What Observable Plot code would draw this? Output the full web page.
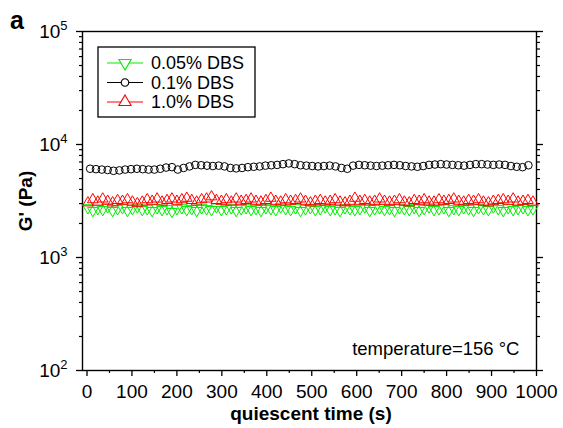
<!DOCTYPE html>
<html><head><meta charset="utf-8">
<script src="https://cdn.jsdelivr.net/npm/d3@7"></script>
<script src="https://cdn.jsdelivr.net/npm/@observablehq/plot@0.6"></script>
<style>
body{margin:0;background:#fff}
#chart svg{font-family:"Liberation Sans",Arial,sans-serif}
</style>
</head><body><div id="chart"></div>
<script>
const seriesNames = ["0.05% DBS", "0.1% DBS", "1.0% DBS"];
const seriesColors = ["#00ee00", "#000000", "#ff0000"];

const xTicks = [0,100,200,300,400,500,600,700,800,900,1000];
const xMinorTicks = [50,150,250,350,450,550,650,750,850,950];
const yTicks = [100,1000,10000,100000];
const yMinorTicks = [200,300,400,500,600,700,800,900,2000,3000,4000,5000,6000,7000,8000,9000,20000,30000,40000,50000,60000,70000,80000,90000];

const timeTri = [2,13,24,35,46,57,68,79,90,101,
  112,123,134,145,156,167,178,189,200,211,
  222,233,244,255,266,277,288,299,310,321,
  332,343,354,365,376,387,398,409,420,431,
  442,453,464,475,486,497,508,519,530,541,
  552,563,574,585,596,607,618,629,640,651,
  662,673,684,695,706,717,728,739,750,761,
  772,783,794,805,816,827,838,849,860,871,
  882,893,904,915,926,937,948,959,970,981,992];

const timeCircle = [7,20,33,46,59,72,85,98,111,124,
  137,150,163,176,189,202,215,228,241,254,
  267,280,293,306,319,332,345,358,371,384,
  397,410,423,436,449,462,475,488,501,514,
  527,540,553,566,579,592,605,618,631,644,
  657,670,683,696,709,722,735,748,761,774,
  787,800,813,826,839,852,865,878,891,904,
  917,930,943,956,969,982];

const g005 = [2750,2600,2700,2650,2800,2600,2700,2750,2600,2700,
  2800,2650,2700,2600,2750,2650,2700,2550,2700,2750,
  2650,2700,2600,2750,2700,2650,2800,2650,2700,2750,
  2600,2700,2750,2650,2700,2600,2750,2700,2650,2800,
  2700,2650,2750,2600,2700,2750,2650,2700,2800,2650,
  2700,2600,2750,2700,2650,2700,2800,2600,2700,2750,
  2650,2700,2600,2750,2700,2650,2750,2600,2700,2800,
  2650,2700,2750,2600,2700,2650,2750,2700,2600,2750,
  2700,2650,2800,2700,2600,2750,2650,2700,2750,2650,2700];

const g01 = [6100,6050,6000,5950,5850,5900,6000,6050,6100,6050,
  6000,6000,6100,6250,6300,6000,6200,6400,6600,6550,
  6500,6450,6500,6400,6200,6150,6200,6300,6350,6400,
  6500,6550,6600,6700,6800,6700,6550,6500,6450,6400,
  6450,6500,6400,6200,6100,6500,6600,6550,6500,6450,
  6500,6550,6600,6550,6450,6400,6350,6450,6600,6650,
  6700,6650,6600,6550,6500,6600,6700,6700,6650,6600,
  6650,6600,6450,6350,6300,6550];

const g10 = [3050,3250,3100,3300,3150,3050,3200,3150,3250,3100,
  3000,3100,3250,3150,3300,3100,3200,3300,3150,3250,
  3350,3200,3100,3250,3300,3450,3200,3150,3250,3100,
  3300,3150,3200,3300,3150,3100,3200,3350,3150,3100,
  3250,3150,3200,3300,3150,3050,3150,3200,3100,3150,
  3250,3100,3050,3150,3350,3150,3200,3100,3150,3300,
  3150,3100,3150,3250,3100,3050,3200,3150,3250,3100,
  3100,3250,3150,3200,3300,3150,3100,3200,3150,3250,
  3100,3050,3150,3200,3250,3150,3300,3100,3150,3200,3100];

const dGreen = timeTri.map((t,i)=>({t, v:g005[i]}));
const dBlack = timeCircle.map((t,i)=>({t, v:g01[i]}));
const dRed = timeTri.map((t,i)=>({t, v:g10[i]}));

const fontFam = "Liberation Sans, Arial, sans-serif";

const plot = Plot.plot({
  width: 563, height: 428,
  marginLeft: 82, marginRight: 27, marginTop: 31, marginBottom: 58,
  style: {fontFamily: fontFam, fontSize: "19px", background: "#fff", color: "#000", overflow: "visible"},
  x: {domain: [-10, 1000]},
  y: {type: "log", domain: [100, 100000]},
  marks: [
    Plot.axisX({ticks: xTicks, tickSize: 6, tickPadding: 8, tickFormat: d => String(d), label: null, fontSize: 19, strokeWidth: 1.3}),
    Plot.axisX({ticks: xMinorTicks, tickSize: 3, tickFormat: () => "", label: null, strokeWidth: 1.2}),
    Plot.axisY({ticks: yTicks, tickSize: 6, tickPadding: 9, tickFormat: d => "10^" + Math.round(Math.log10(d)), label: null, fontSize: 19, strokeWidth: 1.3}),
    Plot.axisY({ticks: yMinorTicks, tickSize: 3, tickFormat: () => "", label: null, strokeWidth: 1.2}),
    Plot.axisY({anchor: "right", ticks: yTicks, tickSize: 6, tickFormat: () => "", label: null, strokeWidth: 1.3}),
    Plot.axisY({anchor: "right", ticks: yMinorTicks, tickSize: 3, tickFormat: () => "", label: null, strokeWidth: 1.2}),
    Plot.frame({stroke: "#000", strokeWidth: 1.4}),
    Plot.dot(dGreen, {x: "t", y: "v", symbol: "triangle", rotate: 180, r: 4, stroke: seriesColors[0], strokeWidth: 1, fill: "none"}),
    Plot.dot(dBlack, {x: "t", y: "v", symbol: "circle", r: 3.8, stroke: seriesColors[1], strokeWidth: 1, fill: "none"}),
    Plot.dot(dRed, {x: "t", y: "v", symbol: "triangle", r: 4, stroke: seriesColors[2], strokeWidth: 1, fill: "none"}),
    Plot.text(["temperature=156 °C"], {frameAnchor: "bottom-right", dx: -17, dy: -16, fontSize: 18.5, textAnchor: "end", fill: "#000"})
  ]
});

const svg = d3.select(plot);
// superscript exponents on y tick labels
svg.selectAll("text").each(function() {
  const el = d3.select(this);
  const txt = el.text();
  const m = /^10\^(\d)$/.exec(txt);
  if (m) {
    el.text("");
    el.append("tspan").text("10");
    el.append("tspan").attr("dy", "-0.6em").attr("font-size", "13px").text(m[1]);
  }
});

// axis titles
svg.append("text").attr("x", 311).attr("y", 420).attr("text-anchor", "middle")
  .attr("font-family", fontFam).attr("font-weight", "bold").attr("font-size", 19).text("quiescent time (s)");
svg.append("text").attr("transform", "translate(32,201) rotate(-90)").attr("text-anchor", "middle")
  .attr("font-family", fontFam).attr("font-weight", "bold").attr("font-size", 19).text("G' (Pa)");
svg.append("text").attr("x", 10).attr("y", 29).attr("text-anchor", "start")
  .attr("font-family", fontFam).attr("font-weight", "bold").attr("font-size", 25).text("a");

// legend
const lg = svg.append("g");
lg.append("rect").attr("x", 98).attr("y", 47).attr("width", 157).attr("height", 70)
  .attr("fill", "#fff").attr("stroke", "#000").attr("stroke-width", 1.3);
const symbols = [d3.symbolTriangle, d3.symbolCircle, d3.symbolTriangle];
const rots = [180, 0, 0];
seriesNames.forEach((name, i) => {
  const cy = 63 + i * 19.5;
  lg.append("line").attr("x1", 107).attr("x2", 143).attr("y1", cy).attr("y2", cy)
    .attr("stroke", seriesColors[i]).attr("stroke-width", 1);
  lg.append("path").attr("d", d3.symbol(symbols[i], i === 1 ? 45 : 65)())
    .attr("transform", `translate(125,${cy}) rotate(${rots[i]})`)
    .attr("fill", "#fff").attr("stroke", seriesColors[i]).attr("stroke-width", 1.1);
  lg.append("text").attr("x", 151).attr("y", cy).attr("dy", "0.36em").attr("text-anchor", "start")
    .attr("font-family", fontFam).attr("font-size", 18).text(name);
});

document.getElementById("chart").appendChild(plot);
</script>
</body></html>
